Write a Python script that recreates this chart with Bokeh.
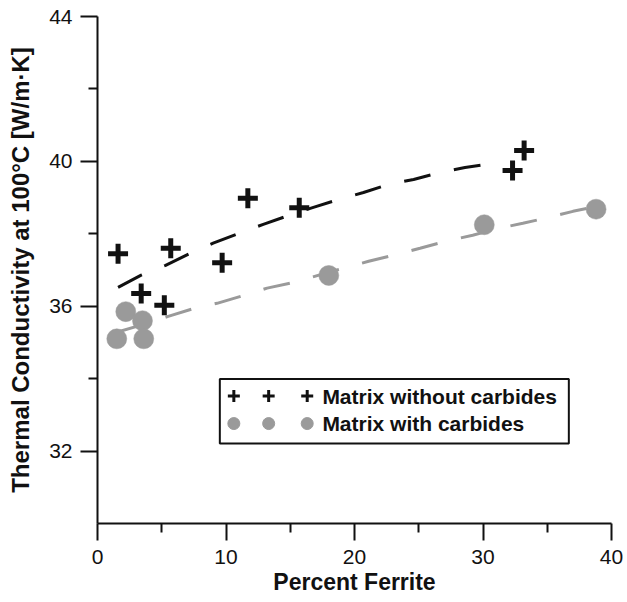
from bokeh.plotting import figure
from bokeh.models import ColumnDataSource, FixedTicker, BoxAnnotation, Label, Range1d
from bokeh.embed import file_html
from bokeh.resources import INLINE

# Measured thermal conductivity vs. ferrite content
plain_ferrite = [1.6, 3.4, 5.2, 5.7, 9.7, 11.7, 15.7, 32.3, 33.2]
plain_k = [37.45, 36.35, 36.03, 37.6, 37.2, 38.98, 38.72, 39.75, 40.3]

carb_ferrite = [1.5, 2.2, 3.5, 3.6, 18.0, 30.1, 38.8]
carb_k = [35.1, 35.85, 35.6, 35.1, 36.85, 38.25, 38.68]

# Trend curves through each series
plain_fit_x = [1.6, 3.4, 5.3, 7.2, 9.0, 11.0, 12.9, 14.9, 16.8, 18.8, 20.7,
               22.7, 24.6, 26.7, 28.6, 30.7]
plain_fit_y = [36.52, 36.86, 37.13, 37.46, 37.74, 38.01, 38.26, 38.51, 38.73,
               38.95, 39.14, 39.37, 39.5, 39.7, 39.83, 39.94]

carb_fit_x = [1.5, 3.6, 5.5, 7.5, 9.3, 11.4, 13.2, 15.3, 18.4, 21.1, 23.3,
              25.1, 27.2, 29.2, 31.2, 33.1, 35.2, 37.0, 38.1]
carb_fit_y = [35.28, 35.5, 35.72, 35.94, 36.08, 36.3, 36.5, 36.66, 36.98,
              37.24, 37.43, 37.6, 37.8, 37.96, 38.15, 38.29, 38.46, 38.62, 38.7]

x_ticks = [0, 10, 20, 30, 40]
x_minor = [5, 15, 25, 35]
y_ticks = [32, 36, 40, 44]
y_minor = [34, 38, 42]

series_labels = ["Matrix without carbides", "Matrix with carbides"]

BLACK = "#111111"
GREY = "#9a9a9a"
FONT = "Liberation Sans"
TEXT = "#111111"

p = figure(width=627, height=602, output_backend="svg", toolbar_location=None,
           x_range=Range1d(0, 40), y_range=Range1d(30, 44),
           min_border_left=97, min_border_right=16, min_border_top=16,
           min_border_bottom=79)
p.outline_line_color = None
p.grid.visible = False
p.background_fill_color = "white"
p.border_fill_color = "white"

# legend panel (drawn beneath the glyphs)
p.add_layout(BoxAnnotation(left=9.52, right=36.68, bottom=32.21, top=33.99,
                           fill_color="white", fill_alpha=1.0,
                           line_color=BLACK, line_alpha=1.0, line_width=2,
                           level="underlay"))

# trend lines
p.line(plain_fit_x, plain_fit_y, line_color=BLACK, line_width=3, line_dash="27 24")
p.line(carb_fit_x, carb_fit_y, line_color=GREY, line_width=3, line_dash="27 24")

# data points
p.scatter(carb_ferrite, carb_k, marker="circle", size=20, fill_color=GREY,
          line_color=GREY, line_width=0.5)
p.scatter(plain_ferrite, plain_k, marker="cross", size=20, line_color=BLACK,
          line_width=5)

# axes
for ax in (p.xaxis[0], p.yaxis[0]):
    ax.axis_line_width = 2
    ax.axis_line_color = BLACK
    ax.major_tick_line_width = 2
    ax.minor_tick_line_width = 2
    ax.major_tick_line_color = BLACK
    ax.minor_tick_line_color = BLACK
    ax.major_tick_in = 0
    ax.major_tick_out = 17
    ax.minor_tick_in = 0
    ax.minor_tick_out = 9
    ax.major_label_text_font = FONT
    ax.major_label_text_font_size = "21px"
    ax.major_label_text_color = TEXT
    ax.axis_label_text_font = FONT
    ax.axis_label_text_font_style = "bold"
    ax.axis_label_text_color = TEXT

p.xaxis[0].axis_label_text_font_size = "23px"
p.yaxis[0].axis_label_text_font_size = "24px"
p.xaxis[0].ticker = FixedTicker(ticks=x_ticks, minor_ticks=x_minor)
p.yaxis[0].ticker = FixedTicker(ticks=y_ticks, minor_ticks=y_minor)
p.xaxis[0].axis_label = "Percent Ferrite"
p.yaxis[0].axis_label = "Thermal Conductivity at 100°C [W/m·K]"
p.xaxis[0].major_label_standoff = 9
p.yaxis[0].major_label_standoff = 8
p.xaxis[0].axis_label_standoff = 2
p.yaxis[0].axis_label_standoff = 12

# legend markers and labels
leg_x = [10.61, 13.32, 16.32]
leg_rows = [33.52, 32.76]
leg_plus = ColumnDataSource(dict(x=leg_x, y=[leg_rows[0]] * 3))
leg_dot = ColumnDataSource(dict(x=leg_x, y=[leg_rows[1]] * 3))
p.scatter("x", "y", source=leg_plus, marker="cross", size=12,
          line_color=BLACK, line_width=3)
p.scatter("x", "y", source=leg_dot, marker="circle", size=12,
          fill_color=GREY, line_color=GREY)
for row, txt in zip(leg_rows, series_labels):
    p.add_layout(Label(x=17.5, y=row, text=txt, text_font=FONT,
                       text_font_size="21px", text_font_style="bold",
                       text_color=TEXT, text_baseline="middle",
                       text_align="left"))

open("out.html", "w").write(file_html(p, INLINE))
